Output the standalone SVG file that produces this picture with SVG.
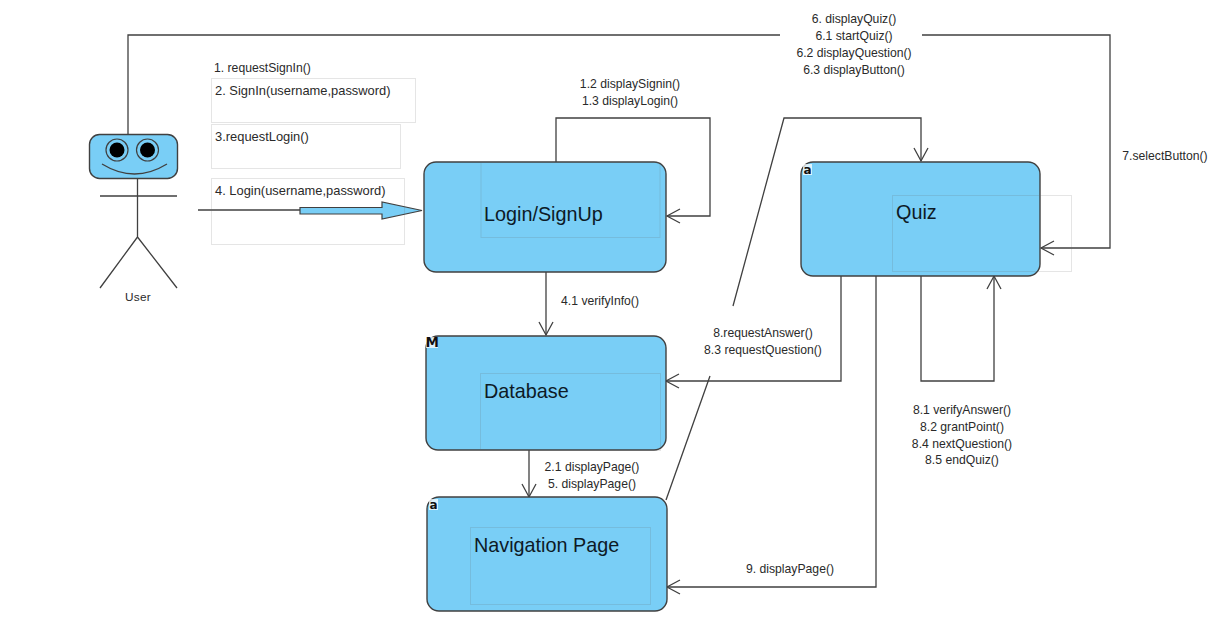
<svg xmlns="http://www.w3.org/2000/svg" width="1218" height="634" viewBox="0 0 1218 634">
<style>
text{font-family:"Liberation Sans",Arial,sans-serif;fill:#2a2a2a}
.m{font-size:12.2px;text-anchor:middle}
.s{font-size:12.200px}
.l{font-size:12.9px}
.t{font-size:19.800px;fill:#0d1a26}
.n{fill:#79cef6;stroke:#404040;stroke-width:1.4}
.b{fill:none;stroke:#646464;stroke-opacity:.17;stroke-width:1}
.c{fill:none;stroke:#404040;stroke-width:1.3}
.e{fill:#79cef6;stroke:#404040;stroke-width:1.2}
.badge{font-size:12px;font-weight:bold;fill:#111;font-family:"DejaVu Sans",sans-serif}
.bg{fill:#fff;fill-opacity:.75}
</style>
<defs>
<marker id="a" markerUnits="userSpaceOnUse" markerWidth="16" markerHeight="18" refX="14" refY="8" orient="auto">
<path d="M1 1L14 8L1 15" fill="none" stroke="#404040" stroke-width="1.3"/>
</marker>
</defs>
<rect width="1218" height="634" fill="#fff"/>
<g id="connectors">
<path class="c" d="M128 134V35H780"/>
<path class="c" marker-end="url(#a)" d="M922 35H1110V248H1041"/>
<path class="c" marker-end="url(#a)" d="M556 162V118H710V216H667"/>
<path class="c" marker-end="url(#a)" d="M546 272V335"/>
<path class="c" marker-end="url(#a)" d="M529 450V497"/>
<path class="c" marker-end="url(#a)" d="M841 276V381H666"/>
<path class="c" marker-end="url(#a)" d="M921 276V381H994V276"/>
<path class="c" marker-end="url(#a)" d="M876 276V587H667"/>
<path class="c" d="M666 500L710 376"/>
<path class="c" marker-end="url(#a)" d="M733 306L784 118H921V161"/>
<path class="c" d="M198 210H300"/>
<path d="M300 207.500H382V202L422 210.500L382 219V214H300Z" fill="#79cef6" stroke="#404040" stroke-width="1.2"/>
</g>
<g id="msg-boxes">
<rect class="b" x="211.500" y="78.500" width="204" height="44"/>
<rect class="b" x="211.500" y="124.500" width="189" height="44"/>
<rect class="b" x="211.500" y="178.500" width="193" height="66"/>
<text class="s" x="214" y="72">1. requestSignIn()</text>
<text class="l" x="215" y="95">2. SignIn(username,password)</text>
<text class="l" x="215" y="141">3.requestLogin()</text>
<text class="l" x="215" y="195">4. Login(username,password)</text>
</g>
<g id="user">
<rect class="n" x="89.500" y="134.500" width="88" height="44" rx="10"/>
<circle class="e" cx="117" cy="150" r="11"/>
<circle cx="117" cy="150" r="7.500" fill="#000"/>
<circle class="e" cx="147.500" cy="150" r="11"/>
<circle cx="147.500" cy="150" r="7.500" fill="#000"/>
<path class="c" d="M102 164Q134.500 184 167 164M137.500 179V237M100 196H177M137.500 237L100 288M137.500 237L177 288"/>
<text class="m" x="138" y="301" style="letter-spacing:.3px;font-size:11.800px">User</text>
</g>
<g id="login">
<rect class="n" x="424" y="162" width="242" height="110" rx="12"/>
<rect class="b" x="481" y="162.500" width="179" height="75"/>
<text class="t" x="484" y="221">Login/SignUp</text>
</g>
<g id="database">
<rect class="n" x="426" y="336" width="240" height="114" rx="12"/>
<rect class="b" x="480.500" y="373.500" width="180" height="77"/>
<text class="t" x="484" y="398">Database</text>
<rect class="bg" x="426" y="337" width="12" height="11"/>
<text class="badge" x="425.500" y="347" style="font-size:13.500px">M</text>
</g>
<g id="navigation">
<rect class="n" x="427" y="497" width="240" height="114" rx="12"/>
<rect class="b" x="470.500" y="527.500" width="180" height="77"/>
<text class="t" x="474" y="552">Navigation Page</text>
<rect class="bg" x="429" y="499" width="9" height="11"/>
<text class="badge" x="429.500" y="508.500">a</text>
</g>
<g id="quiz">
<rect class="n" x="801" y="162" width="239" height="114" rx="12"/>
<rect class="b" x="892.500" y="195.500" width="179" height="76"/>
<text class="t" x="896" y="219">Quiz</text>
<rect class="bg" x="803" y="164" width="9" height="11"/>
<text class="badge" x="803.500" y="173.500">a</text>
</g>
<g id="labels">
<text class="m" x="854" y="23">6. displayQuiz()</text>
<text class="m" x="854" y="40">6.1 startQuiz()</text>
<text class="m" x="854" y="57">6.2 displayQuestion()</text>
<text class="m" x="854" y="74">6.3 displayButton()</text>
<text class="m" x="630" y="88">1.2 displaySignin()</text>
<text class="m" x="630" y="105">1.3 displayLogin()</text>
<text class="m" x="1165" y="160">7.selectButton()</text>
<text class="m" x="600" y="305">4.1 verifyInfo()</text>
<text class="m" x="763" y="337">8.requestAnswer()</text>
<text class="m" x="763" y="354">8.3 requestQuestion()</text>
<text class="m" x="962" y="414">8.1 verifyAnswer()</text>
<text class="m" x="962" y="431">8.2 grantPoint()</text>
<text class="m" x="962" y="448">8.4 nextQuestion()</text>
<text class="m" x="962" y="464">8.5 endQuiz()</text>
<text class="m" x="592" y="471">2.1 displayPage()</text>
<text class="m" x="592" y="488">5. displayPage()</text>
<text class="m" x="790" y="573">9. displayPage()</text>
</g>
</svg>
